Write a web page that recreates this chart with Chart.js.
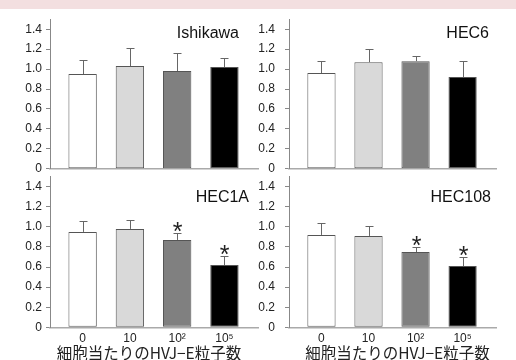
<!DOCTYPE html>
<html>
<head>
<meta charset="utf-8">
<script src="https://cdn.jsdelivr.net/npm/chart.js@4/dist/chart.umd.min.js"></script>
<style>
  body { margin: 0; background: #fff; }
  #wrap { position: relative; width: 516px; height: 360px; overflow: hidden; background: #fff; }
  #band { position: absolute; left: 0; top: 0; width: 516px; height: 9px; background: #f3dfe0; }
  .panel { position: absolute; }
</style>
</head>
<body>
<div id="wrap">
  <div id="band"></div>
  <div class="panel" id="p1" style="left:0;top:10px;width:262px;height:162px"><canvas id="c1"></canvas></div>
  <div class="panel" id="p2" style="left:258px;top:10px;width:258px;height:162px"><canvas id="c2"></canvas></div>
  <div class="panel" id="p3" style="left:0;top:172px;width:262px;height:188px"><canvas id="c3"></canvas></div>
  <div class="panel" id="p4" style="left:258px;top:172px;width:258px;height:188px"><canvas id="c4"></canvas></div>
</div>
<script>
// HVJ-E particles per cell
const doses = ['0', '10', '10²', '10⁵'];
const barColors = ['#ffffff', '#d9d9d9', '#808080', '#000000'];

const ishikawaMean = [0.95, 1.03, 0.98, 1.02];
const ishikawaSD = [0.14, 0.18, 0.18, 0.09];
const hec6Mean = [0.96, 1.07, 1.08, 0.92];
const hec6SD = [0.12, 0.13, 0.05, 0.16];
const hec1aMean = [0.95, 0.98, 0.87, 0.62];
const hec1aSD = [0.11, 0.09, 0.07, 0.09];
const hec108Mean = [0.92, 0.91, 0.75, 0.61];
const hec108SD = [0.12, 0.10, 0.05, 0.09];
const hec1aSig = [false, false, true, true];
const hec108Sig = [false, false, true, true];

const xTitle = '細胞当たりのHVJ−E粒子数';

// draws SD caps, asterisks, cell line name and axis title
const extras = {
  id: 'extras',
  afterDatasetsDraw(chart) {
    const o = chart.options.plugins.extras;
    const { ctx, chartArea, scales } = chart;
    const x = scales.x, y = scales.y;
    ctx.save();
    ctx.strokeStyle = '#666';
    ctx.lineWidth = 1;
    o.mean.forEach((m, i) => {
      const cx = Math.round(x.getPixelForValue(i)) + 0.5;
      const y0 = y.getPixelForValue(m);
      const y1 = Math.round(y.getPixelForValue(m + o.sd[i])) + 0.5;
      ctx.beginPath();
      ctx.moveTo(cx, y0);
      ctx.lineTo(cx, y1);
      ctx.moveTo(cx - 4, y1);
      ctx.lineTo(cx + 4, y1);
      ctx.stroke();
      if (o.sig && o.sig[i]) {
        ctx.fillStyle = '#222';
        ctx.font = '25px "Liberation Sans", Arial, sans-serif';
        ctx.textAlign = 'center';
        ctx.textBaseline = 'alphabetic';
        const mt = ctx.measureText('*');
        ctx.fillText('*', cx, y1 - 2 - mt.actualBoundingBoxDescent);
      }
    });
    ctx.fillStyle = '#111';
    ctx.font = '16px "Liberation Sans", Arial, sans-serif';
    ctx.textAlign = 'right';
    ctx.textBaseline = 'middle';
    ctx.fillText(o.name, chartArea.right - o.nameRight, chartArea.top + o.nameTop);
    if (o.title) {
      ctx.font = '15.5px "Noto Sans CJK JP", sans-serif';
      ctx.textAlign = 'center';
      ctx.fillStyle = '#222';
      ctx.fillText(xTitle, chartArea.left + o.titleX, chartArea.bottom + 26);
    }
    ctx.restore();
  }
};

function noPad(s) {
  s.paddingTop = 0;
  s.paddingBottom = 0;
  s.paddingLeft = 0;
  s.paddingRight = 0;
}

function makePanel(id, box, area, mean, sd, sig, name, opts) {
  const padTop = area.t - box.top;
  const padRight = box.left + box.width - area.r;
  const yWidth = area.l - box.left;
  const xHeight = box.top + box.height - area.b;
  new Chart(document.getElementById(id), {
    type: 'bar',
    data: {
      datasets: [{
        data: mean.map((v, i) => ({ x: i, y: v })),
        backgroundColor: barColors,
        borderColor: '#555',
        borderWidth: 1,
        borderSkipped: false,
        barPercentage: 0.6,
        categoryPercentage: 1
      }]
    },
    options: {
      responsive: true,
      maintainAspectRatio: false,
      animation: false,
      layout: { padding: { top: padTop, right: padRight, left: 0, bottom: 0 } },
      scales: {
        x: {
          type: 'linear',
          offset: false,
          min: -0.69,
          max: 3.71,
          grid: { display: false, offset: false, drawTicks: false },
          border: { display: true, color: '#aaa', width: 1.5 },
          ticks: {
            display: opts.showX,
            stepSize: 1,
            includeBounds: false,
            autoSkip: false,
            maxRotation: 0,
            padding: 4,
            color: '#222',
            font: { family: '"Liberation Sans", Arial, sans-serif', size: 12 },
            callback: (v) => doses[v] ?? ''
          },
          afterFit: (s) => { s.height = xHeight; noPad(s); }
        },
        y: {
          min: 0,
          max: 1.5,
          grid: { display: true, drawOnChartArea: false, tickLength: 4, color: '#888' },
          border: { display: true, color: '#888', width: 1 },
          ticks: {
            stepSize: 0.2,
            includeBounds: false,
            padding: opts.yPad,
            color: '#222',
            font: { family: '"Liberation Sans", Arial, sans-serif', size: 12 },
            callback: (v) => v === 0 ? '0' : v.toFixed(1)
          },
          afterFit: (s) => { s.width = yWidth; noPad(s); }
        }
      },
      plugins: {
        legend: { display: false },
        tooltip: { enabled: false },
        extras: {
          mean: mean, sd: sd, sig: sig, name: name,
          nameRight: opts.nameRight, nameTop: opts.nameTop,
          title: opts.showX, titleX: opts.titleX
        }
      }
    },
    plugins: [extras]
  });
}

makePanel('c1', { left: 0, top: 10, width: 262, height: 162 },
  { l: 50, t: 19.3, r: 258, b: 168.7 }, ishikawaMean, ishikawaSD, null, 'Ishikawa',
  { showX: false, yPad: 4, nameRight: 19, nameTop: 14 });
makePanel('c2', { left: 258, top: 10, width: 258, height: 162 },
  { l: 289, t: 19.3, r: 496, b: 168.7 }, hec6Mean, hec6SD, null, 'HEC6',
  { showX: false, yPad: 10, nameRight: 7, nameTop: 14 });
makePanel('c3', { left: 0, top: 172, width: 262, height: 188 },
  { l: 50, t: 176.7, r: 258, b: 327.3 }, hec1aMean, hec1aSD, hec1aSig, 'HEC1A',
  { showX: true, yPad: 4, nameRight: 9, nameTop: 21, titleX: 99 });
makePanel('c4', { left: 258, top: 172, width: 258, height: 188 },
  { l: 289, t: 176.7, r: 496, b: 327.3 }, hec108Mean, hec108SD, hec108Sig, 'HEC108',
  { showX: true, yPad: 10, nameRight: 5, nameTop: 21, titleX: 108.5 });
</script>
</body>
</html>
